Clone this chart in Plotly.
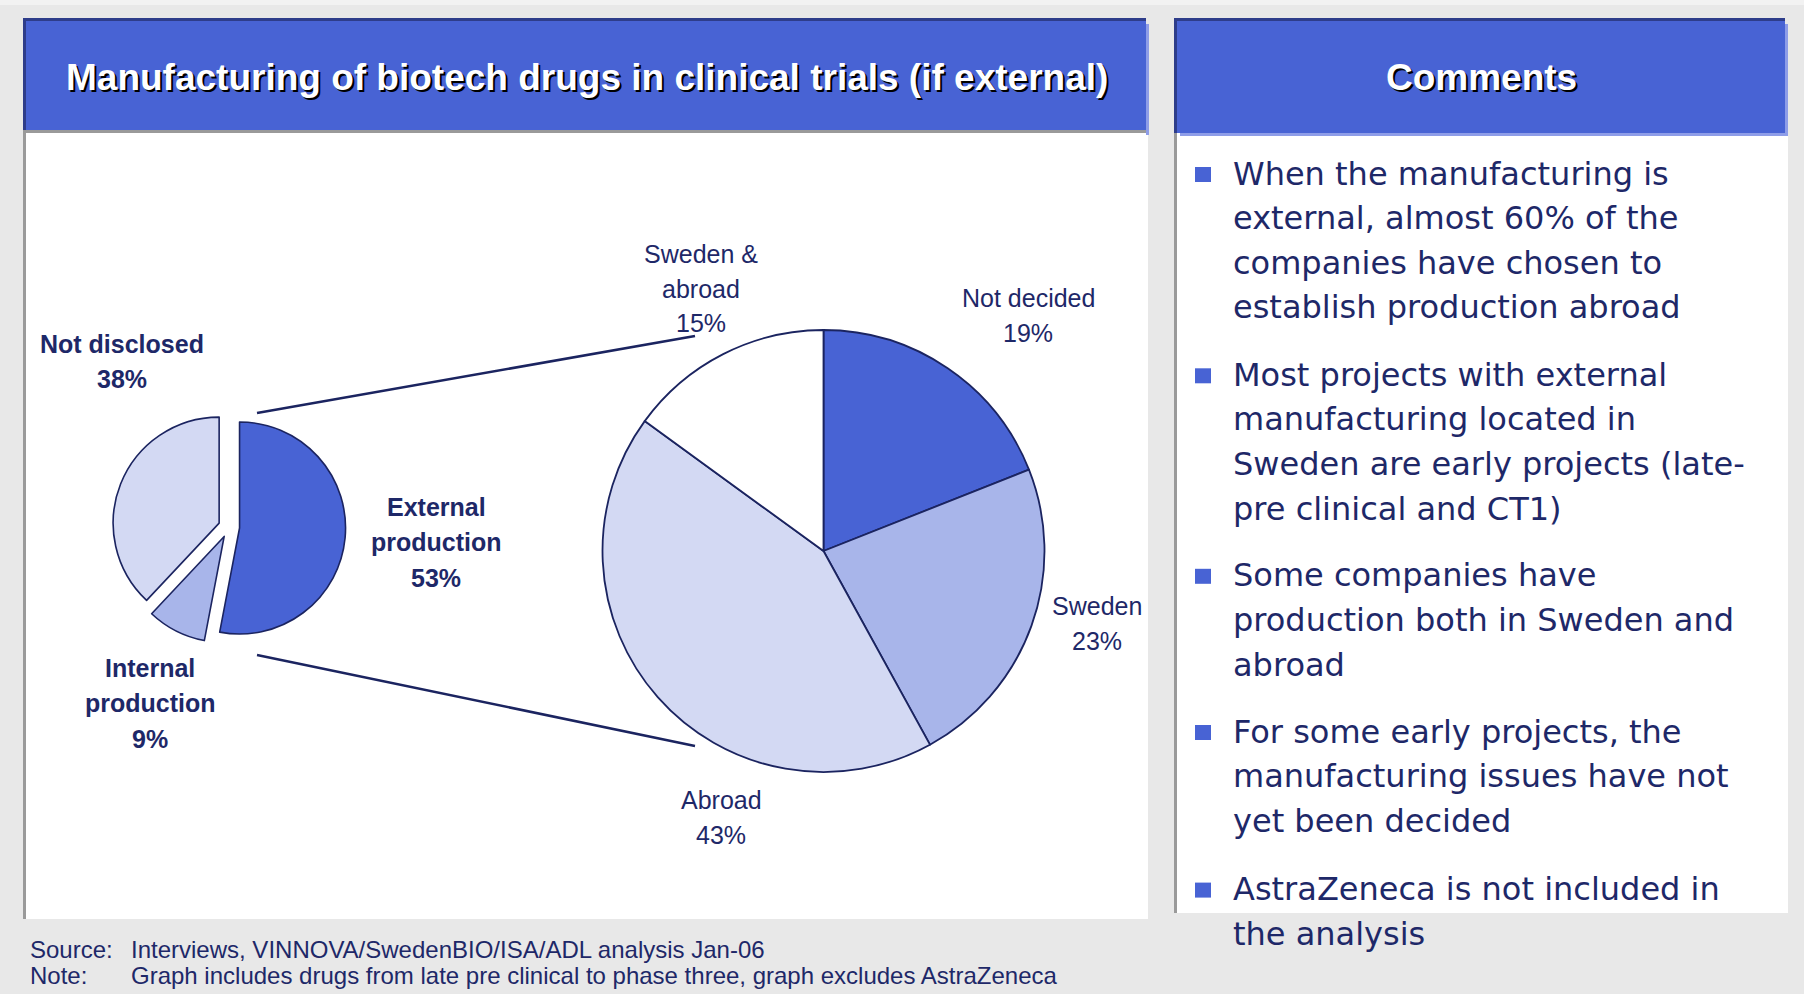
import plotly.graph_objects as go

W, H = 1804, 994

# ---------------- data ----------------
inner_labels = ["External<br>production", "Internal<br>production", "Not disclosed"]
inner_values = [53, 9, 38]
outer_labels = ["Not decided", "Sweden", "Abroad", "Sweden &<br>abroad"]
outer_values = [19, 23, 43, 15]

title_left = "Manufacturing of biotech drugs in clinical trials (if external)"
title_right = "Comments"
comments = [
    ["When the manufacturing is", "external, almost 60% of the",
     "companies have chosen to", "establish production abroad"],
    ["Most projects with external", "manufacturing located in",
     "Sweden are early projects (late-", "pre clinical and CT1)"],
    ["Some companies have", "production both in Sweden and", "abroad"],
    ["For some early projects, the", "manufacturing issues have not",
     "yet been decided"],
    ["AstraZeneca is not included in", "the analysis"],
]
source_rows = [
    ["Source:", "Interviews, VINNOVA/SwedenBIO/ISA/ADL analysis Jan-06"],
    ["Note:", "Graph includes drugs from late pre clinical to phase three, graph excludes AstraZeneca"],
]

# ---------------- styles / layout ----------------
BLUE = "#4863d4"
MID = "#a8b5ea"
LIGHT = "#d3d9f3"
WHITE = "#ffffff"
NAVY = "#1e2868"
EDGE = "#1b2460"
DARKB = "#2e3d8a"
SHADOW = "#8e9de8"
GRAY = "#9a9a9a"
BG = "#e8e8e8"

inner_colors = [BLUE, MID, LIGHT]
outer_colors = [BLUE, MID, LIGHT, WHITE]

ARIAL = "Liberation Sans, Arial, sans-serif"
WIDE = "DejaVu Sans, sans-serif"


def px(x):
    return x / W


def py(y):
    return 1 - y / H


shapes = []
annotations = []


def rect(x0, y0, x1, y1, color, layer="below"):
    shapes.append(dict(type="rect", xref="paper", yref="paper",
                       x0=px(x0), x1=px(x1), y0=py(y1), y1=py(y0),
                       fillcolor=color, line=dict(width=0), layer=layer))


def line(x0, y0, x1, y1, color, width):
    shapes.append(dict(type="line", xref="paper", yref="paper",
                       x0=px(x0), x1=px(x1), y0=py(y0), y1=py(y1),
                       line=dict(color=color, width=width), layer="above"))


def text(x, y, s, size, color, family, anchor="center", xshift=0, yshift=0):
    annotations.append(dict(xref="paper", yref="paper", x=px(x), y=py(y),
                            text=s, showarrow=False, xanchor=anchor,
                            yanchor="middle", xshift=xshift, yshift=yshift,
                            font=dict(size=size, color=color, family=family)))


# background strip
rect(0, 0, W, 5, "#f2f2f2")

# left panel
rect(23, 130, 1148, 919, WHITE)
rect(23, 130, 26, 919, GRAY)
rect(23, 130, 1146, 133, GRAY)
rect(1146, 24, 1149, 135, SHADOW)
rect(23, 18, 1146, 130, DARKB)
rect(26, 21, 1146, 130, BLUE)

# right panel
rect(1174, 133, 1788, 913, WHITE)
rect(1174, 130, 1177, 913, GRAY)
rect(1785, 24, 1788, 136, SHADOW)
rect(1180, 133, 1788, 136, SHADOW)
rect(1174, 18, 1785, 133, DARKB)
rect(1177, 21, 1785, 133, BLUE)

# titles with shadow
for (cx, t) in [(587, title_left), (1481, title_right)]:
    text(cx, 78, "<b>" + t + "</b>", 37, "#000000", ARIAL, xshift=2, yshift=-2)
    text(cx, 78, "<b>" + t + "</b>", 37, WHITE, ARIAL)

# ---------------- pies ----------------
small_c = (229, 527)
small_r = 106
pull = 0.1
half_s = small_r * (1 + pull)
big_c = (823.5, 551)
big_r = 221

fig = go.Figure()
fig.add_trace(go.Pie(
    labels=inner_labels, values=inner_values, sort=False,
    direction="clockwise", rotation=0, textinfo="none", hoverinfo="label+percent",
    pull=[pull] * len(inner_values),
    marker=dict(colors=inner_colors, line=dict(color=EDGE, width=1.6)),
    domain=dict(x=[px(small_c[0] - half_s), px(small_c[0] + half_s)],
                y=[py(small_c[1] + half_s), py(small_c[1] - half_s)]),
    showlegend=False,
))
fig.add_trace(go.Pie(
    labels=outer_labels, values=outer_values, sort=False,
    direction="clockwise", rotation=0, textinfo="none", hoverinfo="label+percent",
    marker=dict(colors=outer_colors, line=dict(color=EDGE, width=1.8)),
    domain=dict(x=[px(big_c[0] - big_r), px(big_c[0] + big_r)],
                y=[py(big_c[1] + big_r), py(big_c[1] - big_r)]),
    showlegend=False,
))

# connector lines
line(257, 413, 695, 336, EDGE, 2.5)
line(257, 655, 695, 746, EDGE, 2.5)

# pie labels
inner_pos = {"External<br>production": (436, 507),
             "Internal<br>production": (150, 668),
             "Not disclosed": (122, 344)}
outer_pos = {"Not decided": (1028, 298), "Sweden": (1097, 606),
             "Abroad": (721, 800), "Sweden &<br>abroad": (701, 254)}

for lab, val in zip(inner_labels, inner_values):
    x0, y0 = inner_pos[lab]
    rows = lab.split("<br>") + [f"{val}%"]
    for i, r in enumerate(rows):
        text(x0, y0 + i * 35.3, "<b>" + r + "</b>", 25, NAVY, ARIAL)

for lab, val in zip(outer_labels, outer_values):
    x0, y0 = outer_pos[lab]
    rows = lab.split("<br>") + [f"{val}%"]
    for i, r in enumerate(rows):
        text(x0, y0 + i * 34.5, r, 25, NAVY, ARIAL)

# comments
bullet_y = [173.5, 374.8, 575.3, 731.5, 889.1]
LS = 44.6
for by, rows in zip(bullet_y, comments):
    rect(1195, by - 6.5, 1211, by + 8.5, BLUE, layer="above")
    for i, r in enumerate(rows):
        text(1231, by + i * LS, r, 32, NAVY, WIDE, anchor="left")

# source / note
for i, (k, v) in enumerate(source_rows):
    yy = 949 + i * 26
    text(28, yy, k, 24, NAVY, ARIAL, anchor="left")
    text(129, yy, v, 24, NAVY, ARIAL, anchor="left")

fig.update_layout(
    width=W, height=H,
    margin=dict(l=0, r=0, t=0, b=0),
    paper_bgcolor=BG, plot_bgcolor=BG,
    shapes=shapes, annotations=annotations,
    showlegend=False,
)

fig.write_html(
    "out.html",
    config={"displayModeBar": False},
    post_script="document.body.style.margin='0';document.body.style.padding='0';"
                "document.body.style.background='%s';" % BG,
)
